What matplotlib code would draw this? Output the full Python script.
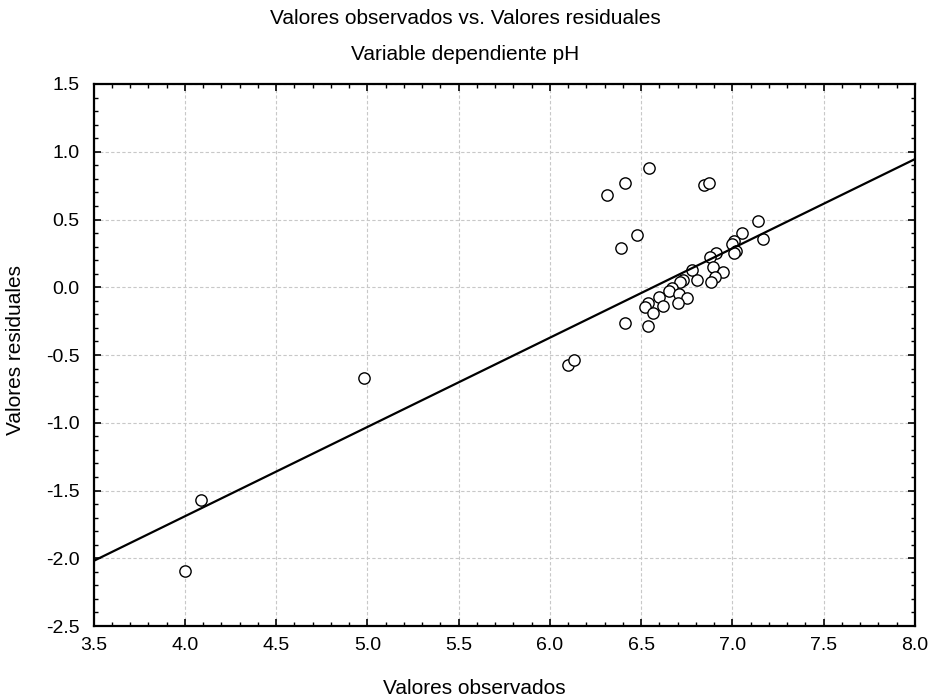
import matplotlib
matplotlib.use("Agg")
import matplotlib.pyplot as plt
from matplotlib.ticker import MultipleLocator, FormatStrFormatter
import numpy as np

plt.rcParams['font.family'] = ['Liberation Sans', 'DejaVu Sans']

observados = [6.541, 6.411, 6.315, 6.846, 6.870, 6.478, 6.389, 7.139, 7.052, 7.170,
              7.009, 6.995, 7.022, 7.009, 6.911, 6.878, 6.780, 6.891, 6.946, 6.905,
              6.881, 6.804, 6.727, 6.712, 6.670, 6.654, 6.597, 6.539, 6.521, 6.563,
              6.618, 6.709, 6.749, 6.703, 6.411, 6.539, 6.098, 6.130, 4.980, 4.086,
              4.000]
residuales = [0.882, 0.766, 0.679, 0.751, 0.768, 0.382, 0.293, 0.487, 0.397, 0.355,
              0.338, 0.318, 0.271, 0.251, 0.251, 0.224, 0.131, 0.151, 0.111, 0.077,
              0.042, 0.057, 0.057, 0.037, -0.005, -0.025, -0.074, -0.115, -0.148, -0.189,
              -0.135, -0.049, -0.078, -0.115, -0.266, -0.288, -0.576, -0.534, -0.667, -1.568,
              -2.092]

# fitted line: residual = intercept + slope * observed
intercepto = -4.326
pendiente = 0.659

xlim = (3.5, 8.0)
ylim = (-2.5, 1.5)

fig = plt.figure(figsize=(9.31, 7.0), dpi=100)
ax = fig.add_axes([0.1006, 0.1057, 0.8822, 0.7743])

ax.scatter(observados, residuales, s=66, facecolors='white', edgecolors='black',
           linewidths=1.0, zorder=3)
xl = np.array(xlim)
ax.plot(xl, intercepto + pendiente * xl, color='black', lw=1.6, zorder=4)

ax.set_xlim(*xlim)
ax.set_ylim(*ylim)
ax.xaxis.set_major_locator(MultipleLocator(0.5))
ax.yaxis.set_major_locator(MultipleLocator(0.5))
ax.xaxis.set_minor_locator(MultipleLocator(0.1))
ax.yaxis.set_minor_locator(MultipleLocator(0.1))
ax.xaxis.set_major_formatter(FormatStrFormatter('%.1f'))
ax.yaxis.set_major_formatter(FormatStrFormatter('%.1f'))
ax.tick_params(which='major', direction='in', length=5, width=1.2,
               top=True, right=True, labelsize=14, pad=8)
ax.tick_params(axis='y', which='major', pad=10)
ax.tick_params(which='minor', direction='in', length=3, width=1.0,
               top=True, right=True)
ax.grid(True, which='major', color='#c8c8c8', linestyle=(0, (3, 2)), lw=0.8, zorder=0)
for sp in ax.spines.values():
    sp.set_linewidth(1.6)

fig.text(0.51, 1 - 688 / 700, 'Valores observados', ha='center', va='center', fontsize=15)
fig.text(16 / 931, 0.5, 'Valores residuales', ha='center', va='center',
         rotation=90, fontsize=15)
fig.text(0.50, 1 - 19 / 700, 'Valores observados vs. Valores residuales', ha='center',
         va='center', fontsize=15)
fig.text(0.50, 1 - 55 / 700, 'Variable dependiente pH', ha='center', va='center',
         fontsize=15)

fig.savefig('out.png', dpi=100)
